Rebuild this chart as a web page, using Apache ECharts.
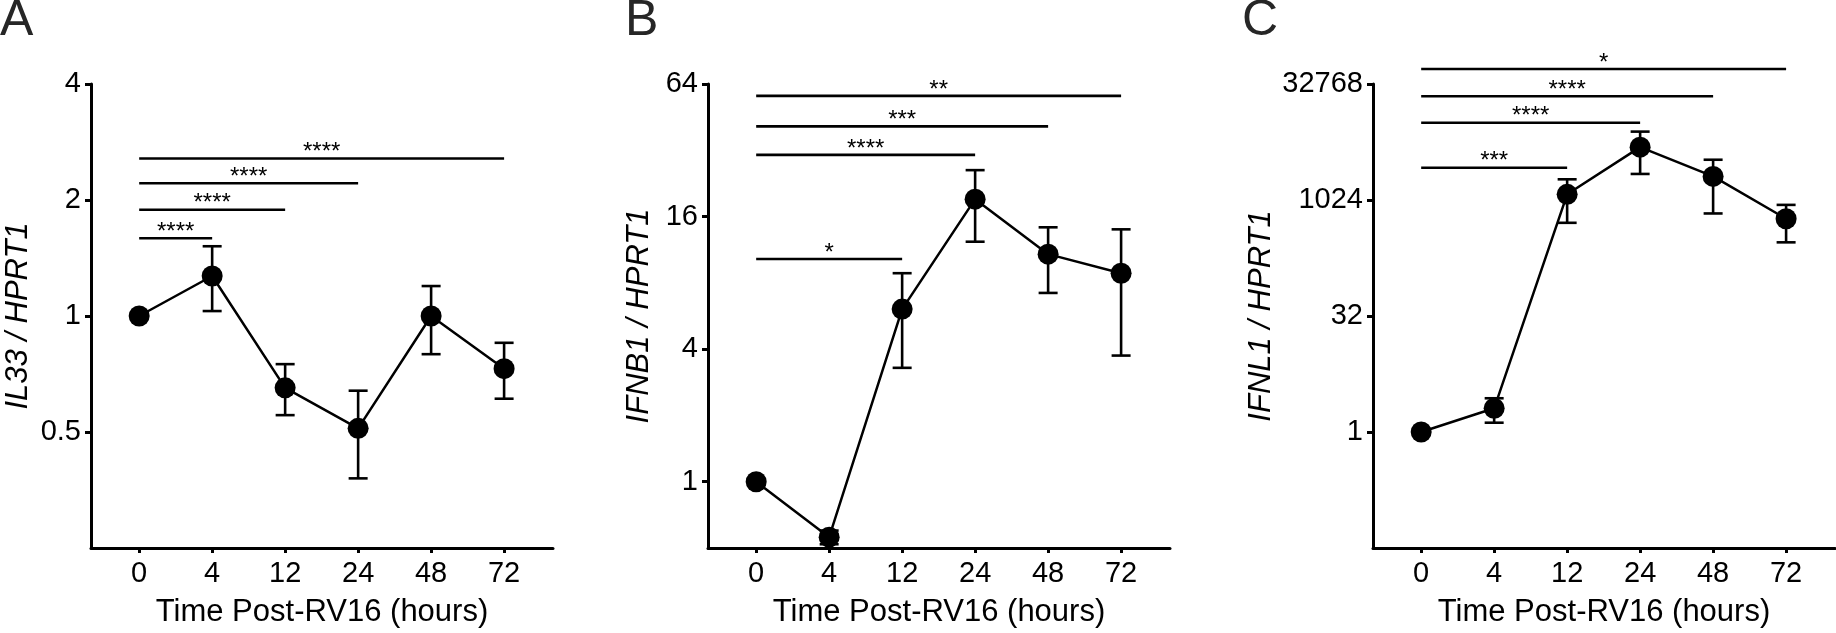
<!DOCTYPE html>
<html>
<head>
<meta charset="utf-8">
<script src="https://cdn.jsdelivr.net/npm/echarts@6/dist/echarts.min.js"></script>
<style>
html,body{margin:0;padding:0;background:#fff;}
#chart{width:1836px;height:633px;}
</style>
</head>
<body>
<div id="chart"></div>
<script>
// ---- data ----
const hours = ['0', '4', '12', '24', '48', '72'];

const il33Mean  = [1.0, 1.27, 0.651, 0.511, 1.0, 0.730];
const il33Upper = [1.0, 1.517, 0.75, 0.64, 1.196, 0.852];
const il33Lower = [1.0, 1.03, 0.553, 0.379, 0.796, 0.610];

const ifnb1Mean  = [1.0, 0.56, 6.08, 19.2, 10.8, 8.85];
const ifnb1Upper = [1.0, 0.60, 8.85, 26.0, 14.3, 14.0];
const ifnb1Lower = [1.0, 0.52, 3.29, 12.3, 7.2, 3.74];

const ifnl1Mean  = [1, 2.03, 1214, 4970, 2070, 585];
const ifnl1Upper = [1, 2.74, 1900, 7900, 3410, 885];
const ifnl1Lower = [1, 1.32, 518, 2230, 685, 289];

const il33Ticks  = [0.5, 1, 2, 4];
const ifnb1Ticks = [1, 4, 16, 64];
const ifnl1Ticks = [1, 32, 1024, 32768];

const il33Range  = [0.25, 4];
const ifnb1Range = [0.5, 64];
const ifnl1Range = [1 / 32, 32768];

// significance brackets: label, end category (from 0h), bracket level (in data units)
const il33SigLabels = ['****', '****', '****', '****'];
const il33SigEnd    = ['4', '12', '24', '72'];
const il33SigLevel  = [1.591, 1.887, 2.21, 2.563];

const ifnb1SigLabels = ['*', '****', '***', '**'];
const ifnb1SigEnd    = ['12', '24', '48', '72'];
const ifnb1SigLevel  = [10.27, 30.5, 41.1, 56.5];

const ifnl1SigLabels = ['***', '****', '****', '*'];
const ifnl1SigEnd    = ['12', '24', '48', '72'];
const ifnl1SigLevel  = [2684, 10300, 22700, 51400];

// ---- chart ----
const FONT = '"Liberation Sans", Arial, Helvetica, sans-serif';
const log2 = v => Math.log2(v);

const panels = [
  {letter: 'A', letterX: 0, gene: 'IL33', mean: il33Mean, up: il33Upper, lo: il33Lower,
   ticks: il33Ticks, range: il33Range, sigL: il33SigLabels, sigE: il33SigEnd, sigY: il33SigLevel,
   left: 91, nameGap: 57},
  {letter: 'B', letterX: 625, gene: 'IFNB1', mean: ifnb1Mean, up: ifnb1Upper, lo: ifnb1Lower,
   ticks: ifnb1Ticks, range: ifnb1Range, sigL: ifnb1SigLabels, sigE: ifnb1SigEnd, sigY: ifnb1SigLevel,
   left: 708, nameGap: 53},
  {letter: 'C', letterX: 1242, gene: 'IFNL1', mean: ifnl1Mean, up: ifnl1Upper, lo: ifnl1Lower,
   ticks: ifnl1Ticks, range: ifnl1Range, sigL: ifnl1SigLabels, sigE: ifnl1SigEnd, sigY: ifnl1SigLevel,
   left: 1373, nameGap: 96}
];

const grids = [], xAxes = [], yAxes = [], series = [], graphics = [];
const catIdx = hours.map((h, i) => i);

panels.forEach((p, k) => {
  grids.push({left: p.left, top: 84, width: 462, height: 464});
  xAxes.push({
    type: 'value', gridIndex: k, min: -0.66, max: 5.67,
    name: 'Time Post-RV16 (hours)', nameLocation: 'middle', nameGap: 49,
    nameTextStyle: {fontFamily: FONT, fontSize: 31, color: '#000'},
    axisLine: {show: true, onZero: false, lineStyle: {color: '#000', width: 3}},
    axisTick: {show: true, length: 5, customValues: catIdx, lineStyle: {color: '#000', width: 3}},
    axisLabel: {customValues: catIdx, margin: 11, fontFamily: FONT, fontSize: 29, color: '#000',
                formatter: v => hours[Math.round(v)]},
    splitLine: {show: false}
  });
  const tl = p.ticks.map(log2);
  yAxes.push({
    type: 'value', gridIndex: k, min: log2(p.range[0]), max: log2(p.range[1]),
    name: p.gene + ' / HPRT1', nameLocation: 'middle', nameRotate: 90, nameGap: p.nameGap,
    nameTextStyle: {fontFamily: FONT, fontSize: 31, fontStyle: 'italic', color: '#000'},
    axisLine: {show: true, onZero: false, lineStyle: {color: '#000', width: 3}},
    axisTick: {show: true, length: 6, customValues: tl, lineStyle: {color: '#000', width: 3}},
    axisLabel: {customValues: tl, margin: 10, fontFamily: FONT, fontSize: 29, color: '#000',
                formatter: v => String(Math.round(Math.pow(2, v) * 1000) / 1000)},
    splitLine: {show: false}
  });

  // error bars
  series.push({
    type: 'custom', xAxisIndex: k, yAxisIndex: k, z: 2,
    data: hours.map((h, i) => [i, log2(p.lo[i]), log2(p.up[i])]),
    renderItem: (params, api) => {
      const x = api.value(0);
      const a = api.coord([x, api.value(1)]);
      const b = api.coord([x, api.value(2)]);
      if (Math.abs(a[1] - b[1]) < 1) return null;
      const hw = 9.5;
      const st = {stroke: '#000', lineWidth: 2.6};
      return {type: 'group', children: [
        {type: 'line', shape: {x1: a[0], y1: a[1], x2: b[0], y2: b[1]}, style: st},
        {type: 'line', shape: {x1: a[0] - hw, y1: a[1], x2: a[0] + hw, y2: a[1]}, style: st},
        {type: 'line', shape: {x1: b[0] - hw, y1: b[1], x2: b[0] + hw, y2: b[1]}, style: st}
      ]};
    }
  });
  // mean line with markers
  series.push({
    type: 'line', xAxisIndex: k, yAxisIndex: k, z: 3,
    data: hours.map((h, i) => [i, log2(p.mean[i])]),
    symbol: 'circle', symbolSize: 21, showSymbol: true,
    lineStyle: {color: '#000', width: 2.5},
    itemStyle: {color: '#000'},
    emphasis: {disabled: true}
  });
  // significance brackets
  series.push({
    type: 'custom', xAxisIndex: k, yAxisIndex: k, z: 4, clip: false,
    data: p.sigL.map((lab, j) => [0, hours.indexOf(p.sigE[j]), log2(p.sigY[j]), j]),
    renderItem: (params, api) => {
      const a = api.coord([api.value(0), api.value(2)]);
      const b = api.coord([api.value(1), api.value(2)]);
      const lab = p.sigL[api.value(3)];
      return {type: 'group', children: [
        {type: 'line', shape: {x1: a[0], y1: a[1], x2: b[0], y2: b[1]},
         style: {stroke: '#000', lineWidth: 2.6}},
        {type: 'text', style: {text: lab, x: (a[0] + b[0]) / 2, y: a[1] - 6,
          align: 'center', verticalAlign: 'middle', fontSize: 24, fontFamily: FONT, fill: '#000'}}
      ]};
    }
  });

  graphics.push({type: 'text', left: p.letterX, top: -4,
    style: {text: p.letter, fontSize: 50, fontFamily: FONT, fill: '#262626'}});
});

const chart = echarts.init(document.getElementById('chart'), null, {renderer: 'canvas'});
chart.setOption({
  animation: false,
  backgroundColor: '#fff',
  grid: grids, xAxis: xAxes, yAxis: yAxes, series: series, graphic: graphics
});
</script>
</body>
</html>
